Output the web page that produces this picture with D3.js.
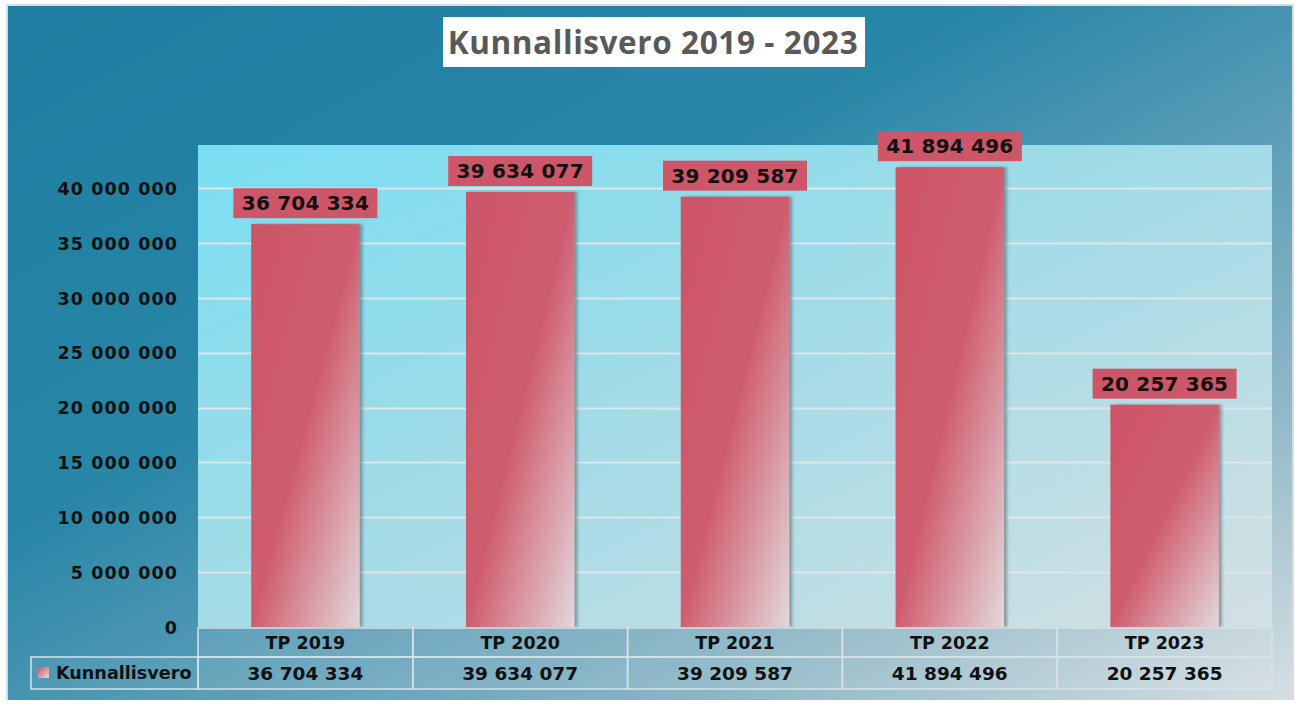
<!DOCTYPE html>
<html>
<head>
<meta charset="utf-8">
<script src="https://cdn.jsdelivr.net/npm/d3@7"></script>
<style>
  html, body { margin: 0; padding: 0; background: #ffffff; }
  svg { display: block; }
  .num { font-feature-settings: "zero" 1, "tnum" 1; }
</style>
</head>
<body>
<svg id="chart" width="1298" height="704"></svg>
<script>
// Municipal tax revenue per financial statement year
const categories = ["TP 2019", "TP 2020", "TP 2021", "TP 2022", "TP 2023"];
const values = [36704334, 39634077, 39209587, 41894496, 20257365];
const seriesName = "Kunnallisvero";
const yTicks = [0, 5000000, 10000000, 15000000, 20000000, 25000000, 30000000, 35000000, 40000000];
const title = "Kunnallisvero 2019 - 2023";

const fmt = v => d3.format(",")(v).replace(/,/g, " ");

const svg = d3.select("#chart");
const W = 1298, H = 704;
const frame = { x: 8, y: 6, w: 1284, h: 694 };
const plot = { left: 198, right: 1272, top: 145, bottom: 627 };
const numFont = "'DejaVu Sans', Verdana, sans-serif";

const defs = svg.append("defs");

// Background gradient: deep teal top-left fading to pale grey bottom-right
const bg = defs.append("linearGradient").attr("id", "bgGrad")
  .attr("x1", 0).attr("y1", 0).attr("x2", 1).attr("y2", 1);
[[0, "#1e7ea1"], [0.38, "#2886a7"], [0.52, "#4b96b2"], [0.78, "#8fb7c6"], [1, "#d6dfe2"]]
  .forEach(([o, c]) => bg.append("stop").attr("offset", o).attr("stop-color", c));

// Plot area gradient: bright cyan to pale grey
const pg = defs.append("linearGradient").attr("id", "plotGrad")
  .attr("x1", 0).attr("y1", 0).attr("x2", 1).attr("y2", 1);
[[0, "#79def2"], [0.45, "#a0dbe7"], [1, "#d3e0e3"]]
  .forEach(([o, c]) => pg.append("stop").attr("offset", o).attr("stop-color", c));

// Bar gradient: rose red fading toward the lower right
const bgBar = defs.append("linearGradient").attr("id", "barGrad")
  .attr("x1", 0).attr("y1", 0).attr("x2", 1).attr("y2", 1);
[[0, "#cc5568"], [0.5, "#cf5d6f"], [0.75, "#d99ba6"], [1, "#e2d8da"]]
  .forEach(([o, c]) => bgBar.append("stop").attr("offset", o).attr("stop-color", c));

const key = defs.append("linearGradient").attr("id", "keyGrad")
  .attr("x1", 0).attr("y1", 0).attr("x2", 1).attr("y2", 1);
[[0, "#cc5568"], [1, "#ead8dc"]]
  .forEach(([o, c]) => key.append("stop").attr("offset", o).attr("stop-color", c));

const shadow = defs.append("filter").attr("id", "barShadow")
  .attr("x", "-20%").attr("y", "-5%").attr("width", "140%").attr("height", "110%");
shadow.append("feDropShadow").attr("dx", 3).attr("dy", 0).attr("stdDeviation", 1.5)
  .attr("flood-color", "#556066").attr("flood-opacity", 0.55);

// Frame
svg.append("rect").attr("x", 0).attr("y", 0).attr("width", W).attr("height", H).attr("fill", "#ffffff");
svg.append("rect").attr("x", frame.x - 2).attr("y", frame.y - 2)
  .attr("width", frame.w + 4).attr("height", frame.h + 2).attr("fill", "#d9dcdd");
svg.append("rect").attr("x", frame.x).attr("y", frame.y)
  .attr("width", frame.w).attr("height", frame.h).attr("fill", "url(#bgGrad)");

// Title
const titleG = svg.append("g");
titleG.append("rect").attr("x", 443).attr("y", 17).attr("width", 422).attr("height", 50).attr("fill", "#ffffff");
titleG.append("text").attr("x", 653).attr("y", 54).attr("text-anchor", "middle")
  .attr("font-family", "'Open Sans', 'Noto Sans', sans-serif").attr("font-weight", 700)
  .attr("font-size", 31.5).attr("fill", "#595959").attr("letter-spacing", 0.6)
  .text(title);

// Scales
const yMax = 40000000 * (plot.bottom - plot.top) / (plot.bottom - 188);
const y = d3.scaleLinear().domain([0, yMax]).range([plot.bottom, plot.top]);
const x = d3.scaleBand().domain(categories).range([plot.left, plot.right]).paddingInner(0).paddingOuter(0);
const barW = x.bandwidth() * 0.505;

// Plot background
svg.append("rect").attr("x", plot.left).attr("y", plot.top)
  .attr("width", plot.right - plot.left).attr("height", plot.bottom - plot.top)
  .attr("fill", "url(#plotGrad)");

// Gridlines
svg.append("g").selectAll("line").data(yTicks.filter(d => d > 0)).join("line")
  .attr("x1", plot.left).attr("x2", plot.right)
  .attr("y1", d => Math.round(y(d)) + 0.5).attr("y2", d => Math.round(y(d)) + 0.5)
  .attr("stroke", "#dde6ea").attr("stroke-width", 2);

// Y axis labels
const yAxis = d3.axisLeft(y).tickValues(yTicks).tickFormat(fmt).tickSize(0).tickPadding(0);
const yG = svg.append("g").attr("transform", "translate(178,0)").call(yAxis);
yG.select(".domain").remove();
yG.selectAll("text").attr("class", "num")
  .attr("font-family", numFont).attr("font-weight", 700).attr("font-size", 17.5)
  .attr("letter-spacing", 1.1).attr("fill", "#111").attr("dy", "0.36em");

// Bars
const bars = svg.append("g");
bars.selectAll("rect").data(values).join("rect")
  .attr("x", (d, i) => x(categories[i]) + (x.bandwidth() - barW) / 2)
  .attr("y", d => y(d))
  .attr("width", barW)
  .attr("height", d => plot.bottom - y(d))
  .attr("fill", "url(#barGrad)")
  .attr("filter", "url(#barShadow)");

// Value labels above bars
const labels = svg.append("g");
const lblW = 144, lblH = 30;
labels.selectAll("rect").data(values).join("rect")
  .attr("x", (d, i) => x(categories[i]) + x.bandwidth() / 2 - lblW / 2)
  .attr("y", d => y(d) - 6 - lblH)
  .attr("width", lblW).attr("height", lblH)
  .attr("fill", "#cd5668");
labels.selectAll("text").data(values).join("text").attr("class", "num")
  .attr("x", (d, i) => x(categories[i]) + x.bandwidth() / 2)
  .attr("y", d => y(d) - 6 - lblH / 2)
  .attr("dy", "0.36em").attr("text-anchor", "middle")
  .attr("font-family", numFont).attr("font-weight", 700).attr("font-size", 20)
  .attr("letter-spacing", 0.2).attr("fill", "#111")
  .text(d => fmt(d));

// Data table below the plot
const row1 = { y: 628, h: 29 }, row2 = { y: 657, h: 32 };
const table = svg.append("g");
const border = "#d6e3e8";

table.selectAll("rect.hdr").data(categories).join("rect").attr("class", "hdr")
  .attr("x", d => x(d)).attr("y", row1.y).attr("width", x.bandwidth()).attr("height", row1.h)
  .attr("fill", "rgba(255,255,255,0.1)").attr("stroke", border).attr("stroke-width", 1.5);
table.selectAll("rect.val").data(categories).join("rect").attr("class", "val")
  .attr("x", d => x(d)).attr("y", row2.y).attr("width", x.bandwidth()).attr("height", row2.h)
  .attr("fill", "rgba(255,255,255,0.1)").attr("stroke", border).attr("stroke-width", 1.5);
table.append("rect").attr("x", 31).attr("y", row2.y).attr("width", plot.left - 31).attr("height", row2.h)
  .attr("fill", "rgba(255,255,255,0.06)").attr("stroke", border).attr("stroke-width", 1.5);

table.selectAll("text.hdr").data(categories).join("text").attr("class", "hdr num")
  .attr("x", d => x(d) + x.bandwidth() / 2).attr("y", row1.y + row1.h / 2)
  .attr("dy", "0.36em").attr("text-anchor", "middle")
  .attr("font-family", numFont).attr("font-weight", 700).attr("font-size", 17.5)
  .attr("fill", "#111")
  .text(d => d);
table.selectAll("text.val").data(values).join("text").attr("class", "val num")
  .attr("x", (d, i) => x(categories[i]) + x.bandwidth() / 2).attr("y", row2.y + row2.h / 2)
  .attr("dy", "0.36em").attr("text-anchor", "middle")
  .attr("font-family", numFont).attr("font-weight", 700).attr("font-size", 18.5)
  .attr("fill", "#111")
  .text(d => fmt(d));

// Legend key inside the table
table.append("rect").attr("x", 38).attr("y", 667).attr("width", 11).attr("height", 11)
  .attr("fill", "url(#keyGrad)");
table.append("text").attr("x", 56).attr("y", row2.y + row2.h / 2).attr("dy", "0.36em")
  .attr("font-family", numFont).attr("font-weight", 700).attr("font-size", 17.6)
  .attr("fill", "#111").text(seriesName);
</script>
</body>
</html>
